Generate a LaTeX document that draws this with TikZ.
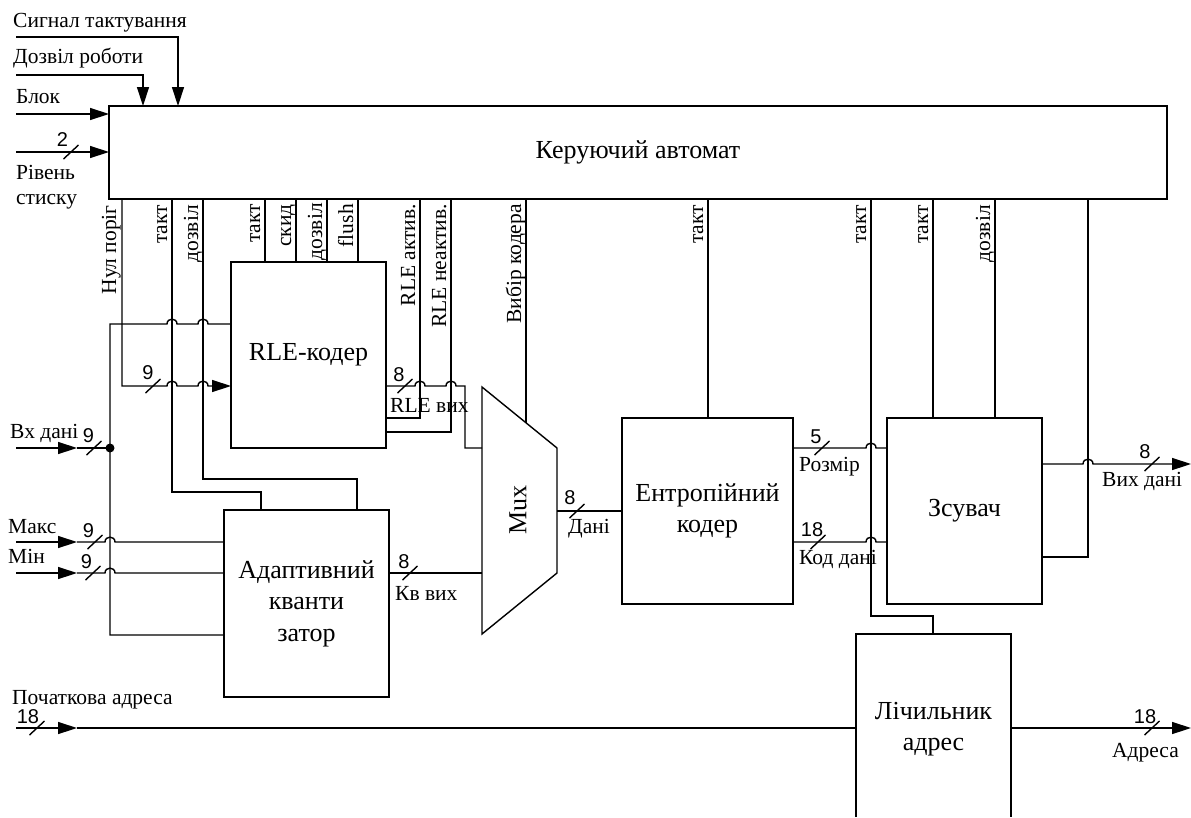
\documentclass[tikz,border=0pt]{standalone}
\usepackage{fontspec}
\setmainfont{Liberation Serif}
\newfontfamily\numfont{Liberation Sans}
\usetikzlibrary{arrows.meta}
\begin{document}
\begin{tikzpicture}[x=1pt,y=-1pt,
  wire/.style={line width=1.4pt},
  arr/.style={-{Triangle[length=19pt,width=12pt]}},
  box/.style={draw,line width=1.4pt,rectangle,inner sep=0pt,outer sep=0pt,font=\fontsize{26}{31.5}\selectfont,align=center},
  bigtxt/.style={font=\fontsize{26}{31.5}\selectfont,align=center,inner sep=0pt},
  lbl/.style={font=\fontsize{21.5}{26}\selectfont,inner sep=0pt},
  vl/.style={lbl,rotate=90,anchor=base east},
  num/.style={font=\numfont\fontsize{20}{22}\selectfont,inner sep=0pt},
  dotn/.style={circle,fill=black,inner sep=0pt,minimum size=9pt}]
\useasboundingbox (0,0) rectangle (1191,817);

% ---------- blocks ----------
\node[box,minimum width=1058pt,minimum height=93pt] (ctrl) at (638,152.5) {Керуючий автомат};
\node[box,minimum width=155pt,minimum height=186pt] (rle) at (308.5,355) {RLE-кодер};
\node[box,minimum width=165pt,minimum height=187pt] (quant) at (306.5,603.5) {Адаптивний\\кванти\\затор};
\node[box,minimum width=171pt,minimum height=186pt] (ent) at (707.5,511) {Ентропійний\\кодер};
\node[box,minimum width=155pt,minimum height=186pt] (shift) at (964.5,511) {Зсувач};
\node[bigtxt] (cnt) at (933.5,729) {Лічильник\\адрес};
\coordinate (cntbl) at (856,817);
\coordinate (cnttl) at (856,634);
\coordinate (cnttr) at (1011,634);
\coordinate (cntbr) at (1011,817);
\draw[wire] (cntbl) -- (cnttl) -- (cnttr) -- (cntbr);

% multiplexer
\coordinate (mtl) at (482,387);
\coordinate (mtr) at (557,448);
\coordinate (mbr) at (557,573);
\coordinate (mbl) at (482,634);
\draw[wire] (mtl) -- (mtr) -- (mbr) -- (mbl) -- cycle;
\node[bigtxt,rotate=90] (mux) at (518,510) {Mux};

% ---------- inputs of the controller ----------
\coordinate (inclk) at (16,37);
\coordinate (inen) at (16,75);
\coordinate (inblk) at (16,114);
\coordinate (inlvl) at (16,152);
\node[lbl,anchor=base west] (tclk) at (13,27) {Сигнал тактування};
\node[lbl,anchor=base west] (ten) at (13,63) {Дозвіл роботи};
\node[lbl,anchor=base west] (tblk) at (16,103) {Блок};
\node[lbl,anchor=base west] (tlvl1) at (16,179) {Рівень};
\node[lbl,anchor=base west] (tlvl2) at (16,204) {стиску};
\draw[wire,arr] (inclk) -- (178,37) -- (ctrl.north -| 178,0);
\draw[wire,arr] (inen) -- (143,75) -- (ctrl.north -| 143,0);
\draw[wire,arr] (inblk) -- (ctrl.west |- 0,114);
\draw[wire,arr] (inlvl) -- (ctrl.west |- 0,152);
\draw[wire] (63.5,159) -- (78.5,145);
\node[num] (n2) at (62.5,140) {2};

% ---------- control lines (labels) ----------
\node[vl] at (116,205) {Нул поріг};
\node[vl] at (167,205) {такт};
\node[vl] at (198,205) {дозвіл};
\node[vl] at (260,204) {такт};
\node[vl] at (291,204) {скид};
\node[vl] at (322,203) {дозвіл};
\node[vl] at (353,204) {flush};
\node[vl] at (415,204) {RLE актив.};
\node[vl] at (446,204) {RLE неактив.};
\node[vl] at (521,204) {Вибір кодера};
\node[vl] at (703,205) {такт};
\node[vl] at (866,205) {такт};
\node[vl] at (928,205) {такт};
\node[vl] at (990,205) {дозвіл};

% Нул поріг -> RLE input (bus 9)
\draw[wire,arr] (ctrl.south -| 122,0) -- (122,386) -- (167,386)
  .. controls (167,379.5) and (177,379.5) .. (177,386) -- (198,386)
  .. controls (198,379.5) and (208,379.5) .. (208,386) -- (rle.west |- 0,386);
\draw[wire] (145.5,393) -- (160.5,379);
\node[num] at (148,373) {9};

% такт / дозвіл to quantizer
\draw[wire] (ctrl.south -| 172,0) -- (172,492) -- (261,492) -- (quant.north -| 261,0);
\draw[wire] (ctrl.south -| 203,0) -- (203,479) -- (357,479) -- (quant.north -| 357,0);

% RLE control inputs
\draw[wire] (ctrl.south -| 265,0) -- (rle.north -| 265,0);
\draw[wire] (ctrl.south -| 296,0) -- (rle.north -| 296,0);
\draw[wire] (ctrl.south -| 327,0) -- (rle.north -| 327,0);
\draw[wire] (ctrl.south -| 358,0) -- (rle.north -| 358,0);

% RLE status lines
\draw[wire] (ctrl.south -| 420,0) -- (420,418) -- (rle.east |- 0,418);
\draw[wire] (ctrl.south -| 451,0) -- (451,432) -- (rle.east |- 0,432);

% input data
\coordinate (indata) at (16,448);
\node[lbl,anchor=base west] (tin) at (10,438) {Вх дані};
\draw[wire,arr] (indata) -- (77,448);
\draw[wire] (77,448) -- (110,448);
\draw[wire] (86.5,455) -- (101.5,441);
\node[num] at (88.5,435.5) {9};
\node[dotn] (jn) at (110,448) {};

% data bus to RLE and quantizer
\draw[wire] (rle.west |- 0,324) -- (208,324)
  .. controls (208,317.5) and (198,317.5) .. (198,324) -- (177,324)
  .. controls (177,317.5) and (167,317.5) .. (167,324) -- (110,324) -- (110,635) -- (quant.west |- 0,635);

% Макс / Мін
\coordinate (inmax) at (16,542);
\coordinate (inmin) at (16,573);
\node[lbl,anchor=base west] (tmax) at (8,533) {Макс};
\node[lbl,anchor=base west] (tmin) at (8,563) {Мін};
\draw[wire,arr] (inmax) -- (77,542);
\draw[wire] (77,542) -- (105,542) .. controls (105,535.5) and (115,535.5) .. (115,542) -- (quant.west |- 0,542);
\draw[wire] (87.5,549) -- (102.5,535);
\node[num] at (88.5,531) {9};
\draw[wire,arr] (inmin) -- (77,573);
\draw[wire] (77,573) -- (105,573) .. controls (105,566.5) and (115,566.5) .. (115,573) -- (quant.west |- 0,573);
\draw[wire] (85.5,580) -- (100.5,566);
\node[num] at (86.5,562) {9};

% RLE output -> mux
\draw[wire] (rle.east |- 0,386) -- (415,386)
  .. controls (415,379.5) and (425,379.5) .. (425,386) -- (446,386)
  .. controls (446,379.5) and (456,379.5) .. (456,386) -- (465,386) -- (465,448) -- (mtl |- 0,448);
\draw[wire] (397.5,393) -- (412.5,379);
\node[num] at (399,375) {8};
\node[lbl,anchor=base west] at (390,412) {RLE вих};

% quantizer output -> mux
\draw[wire] (quant.east |- 0,573) -- (mtl |- 0,573);
\draw[wire] (402.5,580) -- (417.5,566);
\node[num] at (404,562) {8};
\node[lbl,anchor=base west] at (395,600) {Кв вих};

% coder select
\draw[wire] (ctrl.south -| 526,0) -- (526,422.8);

% mux -> entropy coder
\draw[wire] (mtr |- 0,511) -- (ent.west |- 0,511);
\draw[wire] (569.5,518) -- (584.5,504);
\node[num] at (570,498) {8};
\node[lbl,anchor=base west] at (568,533) {Дані};

% entropy clock
\draw[wire] (ctrl.south -| 708,0) -- (ent.north -| 708,0);

% counter clock
\draw[wire] (ctrl.south -| 871,0) -- (871,616) -- (933,616) -- (cnttl -| 933,0);

% entropy -> shifter
\draw[wire] (ent.east |- 0,448) -- (866,448) .. controls (866,441.5) and (876,441.5) .. (876,448) -- (shift.west |- 0,448);
\draw[wire] (814.5,455) -- (829.5,441);
\node[num] at (816,437) {5};
\node[lbl,anchor=base west] at (799,471) {Розмір};
\draw[wire] (ent.east |- 0,542) -- (866,542) .. controls (866,535.5) and (876,535.5) .. (876,542) -- (shift.west |- 0,542);
\draw[wire] (810.5,549) -- (825.5,535);
\node[num] at (812,530) {18};
\node[lbl,anchor=base west] at (799,564) {Код дані};

% shifter control
\draw[wire] (ctrl.south -| 933,0) -- (shift.north -| 933,0);
\draw[wire] (ctrl.south -| 995,0) -- (shift.north -| 995,0);
\draw[wire] (ctrl.south -| 1088,0) -- (1088,557) -- (shift.east |- 0,557);

% output data
\coordinate (outdata) at (1191,464);
\draw[wire,arr] (shift.east |- 0,464) -- (1083,464) .. controls (1083,457.5) and (1093,457.5) .. (1093,464) -- (outdata);
\draw[wire] (1144.5,471) -- (1159.5,457);
\node[num] at (1145,452) {8};
\node[lbl,anchor=base west] at (1102,486) {Вих дані};

% start address -> counter
\coordinate (inaddr) at (16,728);
\node[lbl,anchor=base west] at (12,704) {Початкова адреса};
\draw[wire,arr] (inaddr) -- (77,728);
\draw[wire] (77,728) -- (cnttl |- 0,728);
\draw[wire] (29.5,735) -- (44.5,721);
\node[num] at (28,717) {18};

% counter -> address
\coordinate (outaddr) at (1191,728);
\draw[wire,arr] (cnttr |- 0,728) -- (outaddr);
\draw[wire] (1144.5,735) -- (1159.5,721);
\node[num] at (1145,717) {18};
\node[lbl,anchor=base west] at (1112,757) {Адреса};
\end{tikzpicture}
\end{document}
